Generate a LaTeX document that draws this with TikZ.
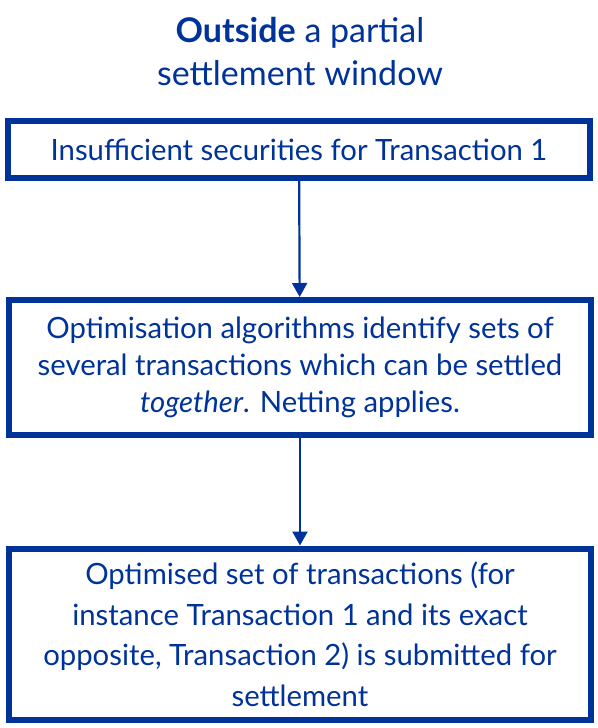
\documentclass[tikz,border=0pt]{standalone}
\usepackage{fontspec}
\setmainfont{Lato}
\usetikzlibrary{arrows.meta}
\definecolor{ecbblue}{RGB}{0,51,153}
\tikzset{
	box/.style={draw=ecbblue, line width=6pt, text=ecbblue, minimum width=582pt, align=center, font=\fontsize{29.3}{37}\selectfont},
	flow/.style={draw=ecbblue, line width=2.2pt, -{Triangle[width=15pt,length=14pt]}}
}
\begin{document}
\begin{tikzpicture}[x=1pt,y=-1pt]
	\useasboundingbox (0,0) rectangle (597,728);
\node[text=ecbblue, align=center, font=\fontsize{34}{43}\selectfont] (title) at (300,52) {\textbf{Outside} a partial\\settlement window};
\node[box, minimum height=57pt] (insuf) at (299,149.5) {Insufficient securities for Transaction 1};
\node[box, minimum height=135pt] (optim) at (300,367.5) {Optimisation algorithms identify sets of\\several transactions which can be settled\\\textit{together}. Netting applies.};
\node[box, minimum height=171pt, font=\fontsize{29.3}{40.5}\selectfont] (subm) at (300,634) {Optimised set of transactions (for\\instance Transaction 1 and its exact\\opposite, Transaction 2) is submitted for\\settlement};
\draw[flow] (insuf) -- (optim);
\draw[flow] (optim) -- (subm);

\end{tikzpicture}
\end{document}
